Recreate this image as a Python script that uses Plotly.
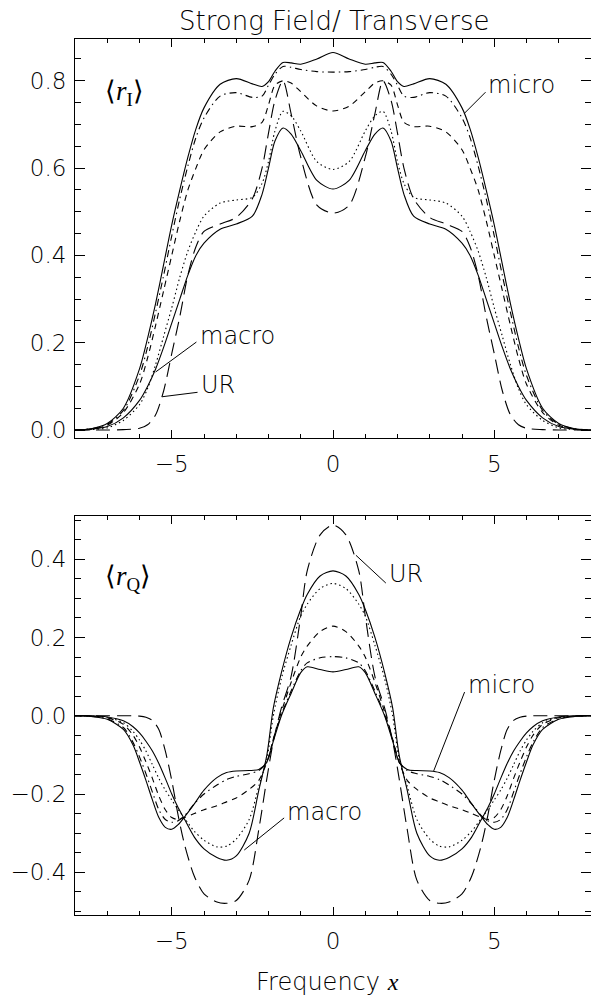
import plotly.graph_objects as go

# ---------------- data ----------------
# Top panel <r_I>
top_x = [-8, -7.5, -7, -6.5, -6, -5.75, -5.5, -5.25, -5, -4.75, -4.5, -4.25, -4, -3.5, -3, -2.5, -2.2, -2, -1.8,
         -1.55, -1.3, -1, -0.5, 0, 0.5, 1, 1.3, 1.55, 1.8, 2, 2.2, 2.5, 3, 3.5, 4, 4.25, 4.5, 4.75, 5, 5.25,
         5.5, 5.75, 6, 6.5, 7, 7.5, 8]
top_micro = [0, 0.003, 0.015, 0.05, 0.14, 0.21, 0.29, 0.38, 0.47, 0.55, 0.625, 0.69, 0.738, 0.792, 0.805, 0.793,
             0.787, 0.798, 0.822, 0.842, 0.841, 0.838, 0.85, 0.865, 0.85, 0.838, 0.841, 0.842, 0.822, 0.798,
             0.787, 0.793, 0.805, 0.792, 0.738, 0.69, 0.625, 0.55, 0.47, 0.38, 0.29, 0.21, 0.14, 0.05, 0.015,
             0.003, 0]
top_dashdot = [0, 0.003, 0.013, 0.045, 0.125, 0.19, 0.27, 0.355, 0.445, 0.53, 0.605, 0.67, 0.715, 0.765, 0.773,
               0.762, 0.765, 0.79, 0.815, 0.833, 0.831, 0.826, 0.821, 0.82, 0.821, 0.826, 0.831, 0.833, 0.815,
               0.79, 0.765, 0.762, 0.773, 0.765, 0.715, 0.67, 0.605, 0.53, 0.445, 0.355, 0.27, 0.19, 0.125,
               0.045, 0.013, 0.003, 0]
top_dash = [0, 0.002, 0.011, 0.04, 0.105, 0.165, 0.24, 0.32, 0.40, 0.48, 0.55, 0.60, 0.642, 0.683, 0.696, 0.695,
            0.705, 0.745, 0.79, 0.80, 0.795, 0.775, 0.742, 0.731, 0.742, 0.775, 0.795, 0.80, 0.79, 0.745, 0.705,
            0.695, 0.696, 0.683, 0.642, 0.60, 0.55, 0.48, 0.40, 0.32, 0.24, 0.165, 0.105, 0.04, 0.011, 0.002, 0]
top_dot = [0, 0.001, 0.005, 0.022, 0.058, 0.095, 0.15, 0.215, 0.28, 0.35, 0.41, 0.455, 0.49, 0.52, 0.527, 0.533,
           0.565, 0.615, 0.685, 0.73, 0.72, 0.685, 0.615, 0.597, 0.615, 0.685, 0.72, 0.73, 0.685, 0.615, 0.565,
           0.533, 0.527, 0.52, 0.49, 0.455, 0.41, 0.35, 0.28, 0.215, 0.15, 0.095, 0.058, 0.022, 0.005, 0.001, 0]
top_ur = [0, 0, 0, 0.001, 0.004, 0.012, 0.035, 0.09, 0.175, 0.26, 0.355, 0.42, 0.455, 0.472, 0.487, 0.53, 0.60,
          0.68, 0.755, 0.80, 0.725, 0.625, 0.515, 0.497, 0.515, 0.625, 0.725, 0.80, 0.755, 0.68, 0.60, 0.53,
          0.487, 0.472, 0.455, 0.42, 0.355, 0.26, 0.175, 0.09, 0.035, 0.012, 0.004, 0.001, 0, 0, 0]
top_macro = [0, 0.002, 0.008, 0.028, 0.068, 0.10, 0.14, 0.19, 0.245, 0.30, 0.355, 0.40, 0.428, 0.46, 0.472, 0.49,
             0.54, 0.60, 0.662, 0.692, 0.678, 0.64, 0.572, 0.552, 0.572, 0.64, 0.678, 0.692, 0.662, 0.60, 0.54,
             0.49, 0.472, 0.46, 0.428, 0.40, 0.355, 0.30, 0.245, 0.19, 0.14, 0.10, 0.068, 0.028, 0.008, 0.002, 0]

# Bottom panel <r_Q>
bot_x = [-8, -7.5, -7, -6.5, -6.2, -6, -5.8, -5.6, -5.4, -5.2, -5, -4.8, -4.6, -4.3, -4, -3.6, -3.3, -3, -2.6,
         -2.3, -2.05, -1.85, -1.6, -1.3, -1, -0.8, -0.4, 0, 0.4, 0.8, 1, 1.3, 1.6, 1.85, 2.05, 2.3, 2.6, 3, 3.3,
         3.6, 4, 4.3, 4.6, 4.8, 5, 5.2, 5.4, 5.6, 5.8, 6, 6.2, 6.5, 7, 7.5, 8]
bot_micro = [0, -0.002, -0.009, -0.035, -0.075, -0.118, -0.165, -0.215, -0.26, -0.285, -0.29, -0.278, -0.258,
             -0.225, -0.19, -0.158, -0.145, -0.141, -0.14, -0.137, -0.118, -0.065, 0.0, 0.057, 0.11, 0.125, 0.118,
             0.112, 0.118, 0.125, 0.11, 0.057, 0.0, -0.065, -0.118, -0.137, -0.14, -0.141, -0.145, -0.158, -0.19,
             -0.225, -0.258, -0.278, -0.29, -0.285, -0.26, -0.215, -0.165, -0.118, -0.075, -0.035, -0.009,
             -0.002, 0]
bot_dashdot = [0, -0.001, -0.008, -0.03, -0.068, -0.105, -0.148, -0.195, -0.24, -0.265, -0.272, -0.268, -0.255,
               -0.225, -0.2, -0.177, -0.163, -0.155, -0.148, -0.14, -0.118, -0.06, 0.003, 0.063, 0.115, 0.135,
               0.148, 0.151, 0.148, 0.135, 0.115, 0.063, 0.003, -0.06, -0.118, -0.14, -0.148, -0.155, -0.163,
               -0.177, -0.2, -0.225, -0.255, -0.268, -0.272, -0.265, -0.24, -0.195, -0.148, -0.105, -0.068,
               -0.03, -0.008, -0.001, 0]
bot_dash = [0, -0.001, -0.005, -0.022, -0.05, -0.08, -0.118, -0.16, -0.205, -0.24, -0.26, -0.265, -0.26, -0.25,
            -0.24, -0.23, -0.22, -0.21, -0.188, -0.165, -0.118, -0.06, 0.01, 0.085, 0.15, 0.178, 0.215, 0.229,
            0.215, 0.178, 0.15, 0.085, 0.01, -0.06, -0.118, -0.165, -0.188, -0.21, -0.22, -0.23, -0.24, -0.25,
            -0.26, -0.265, -0.26, -0.24, -0.205, -0.16, -0.118, -0.08, -0.05, -0.022, -0.005, -0.001, 0]
bot_dot = [0, -0.001, -0.004, -0.018, -0.04, -0.062, -0.09, -0.125, -0.16, -0.19, -0.215, -0.24, -0.262, -0.295,
           -0.318, -0.335, -0.333, -0.315, -0.265, -0.18, -0.11, 0.0, 0.095, 0.18, 0.255, 0.285, 0.325, 0.338,
           0.325, 0.285, 0.255, 0.18, 0.095, 0.0, -0.11, -0.18, -0.265, -0.315, -0.333, -0.335, -0.318, -0.295,
           -0.262, -0.24, -0.215, -0.19, -0.16, -0.125, -0.09, -0.062, -0.04, -0.018, -0.004, -0.001, 0]
bot_ur = [0, 0, 0, 0, 0, -0.001, -0.004, -0.012, -0.035, -0.09, -0.165, -0.255, -0.33, -0.41, -0.455, -0.476,
          -0.479, -0.472, -0.42, -0.29, -0.16, -0.065, 0.02, 0.10, 0.255, 0.37, 0.462, 0.487, 0.462, 0.37, 0.255,
          0.10, 0.02, -0.065, -0.16, -0.29, -0.42, -0.472, -0.479, -0.476, -0.455, -0.41, -0.33, -0.255, -0.165,
          -0.09, -0.035, -0.012, -0.004, -0.001, 0, 0, 0, 0, 0]
bot_macro = [0, 0, -0.003, -0.013, -0.028, -0.044, -0.065, -0.09, -0.122, -0.16, -0.2, -0.235, -0.265, -0.31,
             -0.34, -0.362, -0.369, -0.358, -0.30, -0.19, -0.10, 0.02, 0.11, 0.20, 0.272, 0.31, 0.357, 0.37, 0.357,
             0.31, 0.272, 0.20, 0.11, 0.02, -0.10, -0.19, -0.30, -0.358, -0.369, -0.362, -0.34, -0.31, -0.265,
             -0.235, -0.2, -0.16, -0.122, -0.09, -0.065, -0.044, -0.028, -0.013, -0.003, 0, 0]

# axis ticks
x_tickvals = [-5, 0, 5]
x_ticktext = ["\u22125", "0", "5"]
x_minorvals = list(range(-8, 9))
top_y_tickvals = [0.0, 0.2, 0.4, 0.6, 0.8]
top_y_ticktext = ["0.0", "0.2", "0.4", "0.6", "0.8"]
top_y_minorvals = [0.05 * i for i in range(0, 18)]
bot_y_tickvals = [-0.4, -0.2, 0.0, 0.2, 0.4]
bot_y_ticktext = ["\u22120.4", "\u22120.2", "0.0", "0.2", "0.4"]
bot_y_minorvals = [-0.5 + 0.05 * i for i in range(0, 21)]

# ---------------- figure ----------------
FONT = "DejaVu Sans"
styles = [("micro", "solid"), ("dashdot", "7px,4px,1.5px,4px"), ("dash", "6px,5px"),
          ("dot", "1.5px,3px"), ("ur", "14px,7px"), ("macro", "solid")]

fig = go.Figure()
top_series = [top_micro, top_dashdot, top_dash, top_dot, top_ur, top_macro]
bot_series = [bot_micro, bot_dashdot, bot_dash, bot_dot, bot_ur, bot_macro]
for (name, dash), ys in zip(styles, top_series):
    fig.add_trace(go.Scatter(x=top_x, y=ys, mode="lines", name=name, xaxis="x", yaxis="y",
                             line=dict(color="black", width=1.1, dash=dash, shape="spline", smoothing=0.8),
                             showlegend=False, hoverinfo="skip"))
for (name, dash), ys in zip(styles, bot_series):
    fig.add_trace(go.Scatter(x=bot_x, y=ys, mode="lines", name=name, xaxis="x2", yaxis="y2",
                             line=dict(color="black", width=1.1, dash=dash, shape="spline", smoothing=0.8),
                             showlegend=False, hoverinfo="skip"))

tickfont = dict(family=FONT, size=23, color="black", weight=200)

def xax(anchor):
    return dict(domain=[0, 1], anchor=anchor, range=[-8, 8], showgrid=False, zeroline=False,
                automargin=False, ticklabelstandoff=5,
                showline=True, linecolor="black", linewidth=1, mirror="ticks",
                ticks="inside", ticklen=8, tickwidth=1, tickcolor="black",
                tickmode="array", tickvals=x_tickvals, ticktext=x_ticktext, tickfont=tickfont,
                minor=dict(ticks="inside", ticklen=4, tickwidth=1, tickcolor="black",
                           tickmode="array", tickvals=x_minorvals, showgrid=False))

def yax(anchor, dom, rng, tv, tt, mv):
    return dict(domain=dom, anchor=anchor, range=rng, showgrid=False, zeroline=False,
                automargin=False, ticklabelstandoff=3,
                showline=True, linecolor="black", linewidth=1, mirror="ticks",
                ticks="inside", ticklen=10, tickwidth=1, tickcolor="black",
                tickmode="array", tickvals=tv, ticktext=tt, tickfont=tickfont,
                minor=dict(ticks="inside", ticklen=6, tickwidth=1, tickcolor="black",
                           tickmode="array", tickvals=mv, showgrid=False))

fig.update_layout(
    width=591, height=995,
    margin=dict(l=75, r=0, t=39, b=80),
    paper_bgcolor="white", plot_bgcolor="white",
    xaxis=xax("y"),
    yaxis=yax("x", [0.5445, 1.0], [-0.0183, 0.8958], top_y_tickvals, top_y_ticktext, top_y_minorvals),
    xaxis2=xax("y2"),
    yaxis2=yax("x2", [0.0, 0.4558], [-0.509, 0.511], bot_y_tickvals, bot_y_ticktext, bot_y_minorvals),
)

# pointer lines for labels (data coordinates)
pointers = [
    ("x", "y", 4.08, 0.726, 4.73, 0.774),
    ("x", "y", -5.5, 0.133, -4.235, 0.2016),
    ("x", "y", -5.295, 0.0763, -4.2, 0.0864),
    ("x2", "y2", 0.711, 0.410, 1.638, 0.339),
    ("x2", "y2", 3.122, -0.141, 4.08, 0.0605),
    ("x2", "y2", -2.751, -0.343, -1.515, -0.261),
]
for xr, yr, x0, y0, x1, y1 in pointers:
    fig.add_shape(type="line", xref=xr, yref=yr, x0=x0, y0=y0, x1=x1, y1=y1,
                  line=dict(color="black", width=1))

labels = [
    ("x", "y", 4.73, 0.79, "micro"),
    ("x", "y", -4.2, 0.215, "macro"),
    ("x", "y", -4.17, 0.103, "UR"),
    ("x2", "y2", 1.67, 0.362, "UR"),
    ("x2", "y2", 4.11, 0.078, "micro"),
    ("x2", "y2", -1.48, -0.246, "macro"),
]
for xr, yr, x, y, t in labels:
    fig.add_annotation(xref=xr, yref=yr, x=x, y=y, text=t, showarrow=False,
                       xanchor="left", yanchor="middle",
                       font=dict(family=FONT, size=24, color="black", weight=200))

# panel quantity labels
fig.add_annotation(xref="x", yref="y", x=-6.46, y=0.772,
                   text="\u27e8<i>r</i><sub>I</sub>\u27e9", showarrow=False,
                   xanchor="center", yanchor="middle",
                   font=dict(family="Liberation Serif", size=27, color="black"))
fig.add_annotation(xref="x2", yref="y2", x=-6.37, y=0.351,
                   text="\u27e8<i>r</i><sub>Q</sub>\u27e9", showarrow=False,
                   xanchor="center", yanchor="middle",
                   font=dict(family="Liberation Serif", size=27, color="black"))

# title and x-axis title
fig.add_annotation(xref="paper", yref="paper", x=(334 - 75) / 516, y=1.0205,
                   text="Strong Field/ Transverse", showarrow=False,
                   xanchor="center", yanchor="middle",
                   font=dict(family=FONT, size=26, color="black", weight=200))
fig.add_annotation(xref="paper", yref="paper", x=(327 - 75) / 516, y=-0.0765,
                   text="Frequency <span style=\"font-family:'Liberation Serif'\"><i>x</i></span>",
                   showarrow=False, xanchor="center", yanchor="middle",
                   font=dict(family=FONT, size=24, color="black", weight=200))

fig.write_html("out.html", config={"displayModeBar": False},
               post_script="document.body.style.margin='0px';document.body.style.overflow='hidden';")
